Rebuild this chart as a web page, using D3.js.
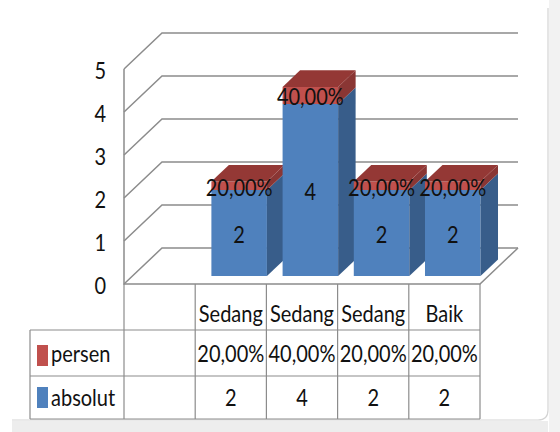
<!DOCTYPE html>
<html>
<head>
<meta charset="utf-8">
<script src="https://cdn.jsdelivr.net/npm/d3@7"></script>
<style>
body { margin: 0; background: #fff; }
svg { display: block; }
</style>
</head>
<body>
<div id="chart-area"></div>
<script>
// data (first category is empty in the source sheet)
const categories = ["", "Sedang", "Sedang", "Sedang", "Baik"];
const absolut = [null, 2, 4, 2, 2];
const persen = [null, 0.2, 0.4, 0.2, 0.2];
const yTicks = [0, 1, 2, 3, 4, 5];
const seriesNames = ["persen", "absolut"];

const canvasWidth = 560;
const canvasHeight = 432;

const depthX = 38, depthY = 36;      // oblique offset of the back wall
const barFront = 0.22, barBack = 0.68; // bar depth as fraction of floor depth
const fontFamily = "Lato, 'Open Sans', sans-serif";
const stretch = 1.14; // source font is tall and narrow

const colors = {
  absolut: { front: "#4F81BD", side: "#385D8A", top: "#3B6597" },
  persen: { front: "#C0504D", side: "#8A3634", top: "#943835" }
};

const pct = d3.formatLocale({ decimal: ",", thousands: ".", grouping: [3], currency: ["", ""] }).format(".2%");

const svg = d3.select("#chart-area").append("svg")
  .attr("width", canvasWidth).attr("height", canvasHeight);

const scaleX = d3.scaleBand().domain(d3.range(categories.length)).range([124, 480]);
const scaleY = d3.scaleLinear().domain([0, 5]).range([284, 69]);

const proj = (px, v, t) => [px + t * depthX, scaleY(v) - t * depthY];
const line = d3.line();
const at = (x, y) => `translate(${x},${y}) scale(1,${stretch})`;

// window frame bits on the right and bottom
svg.append("rect").attr("x", 549).attr("y", 0).attr("width", 11).attr("height", canvasHeight).attr("fill", "#f2f2f2");
svg.append("path").attr("d", "M548,8 L548,410 Q548,420 538,420 L12,420")
  .attr("fill", "none").attr("stroke", "#d4d4d4").attr("stroke-width", 1.2);
svg.append("rect").attr("x", 12).attr("y", 421).attr("width", 536).attr("height", 11).attr("fill", "#ededed");

// walls and floor
const grid = svg.append("g").attr("fill", "none").attr("stroke", "#8c8c8c").attr("stroke-width", 1.5);
const left = scaleX.range()[0], right = scaleX.range()[1];

yTicks.forEach(v => {
  grid.append("path").attr("d", line([proj(left, v, 0), proj(left, v, 1), proj(right, v, 1)]));
});
grid.append("path").attr("d", line([proj(left, 5, 0), proj(left, 0, 0), proj(right, 0, 0), proj(right, 0, 1)]));

// y tick labels
svg.append("g").selectAll("text").data(yTicks).join("text")
  .attr("transform", v => at(106, scaleY(v) + 10))
  .attr("text-anchor", "end")
  .attr("font-family", fontFamily).attr("font-size", 20).attr("fill", "#111")
  .text(v => v);

// stacked 3d columns
const barWidth = scaleX.bandwidth() * 0.78;
const bars = svg.append("g");
const labels = [];

categories.forEach((c, i) => {
  if (absolut[i] == null) return;
  const x0 = scaleX(i) + (scaleX.bandwidth() - barWidth) / 2;
  const x1 = x0 + barWidth;
  const segments = [
    { key: "absolut", v0: 0, v1: absolut[i], text: absolut[i] },
    { key: "persen", v0: absolut[i], v1: absolut[i] + persen[i], text: pct(persen[i]) }
  ];
  segments.forEach((s, k) => {
    const col = colors[s.key];
    bars.append("path").attr("fill", col.front)
      .attr("d", line([proj(x0, s.v0, barFront), proj(x1, s.v0, barFront), proj(x1, s.v1, barFront), proj(x0, s.v1, barFront)]) + "Z");
    bars.append("path").attr("fill", col.side)
      .attr("d", line([proj(x1, s.v0, barFront), proj(x1, s.v0, barBack), proj(x1, s.v1, barBack), proj(x1, s.v1, barFront)]) + "Z");
    if (k === segments.length - 1) {
      bars.append("path").attr("fill", col.top)
        .attr("d", line([proj(x0, s.v1, barFront), proj(x1, s.v1, barFront), proj(x1, s.v1, barBack), proj(x0, s.v1, barBack)]) + "Z");
    }
    const mid = proj((x0 + x1) / 2, (s.v0 + s.v1) / 2, barFront);
    labels.push({ x: mid[0], y: mid[1] + 10, text: s.text });
  });
});

svg.append("g").selectAll("text").data(labels).join("text")
  .attr("transform", d => at(d.x, d.y))
  .attr("text-anchor", "middle")
  .attr("font-family", fontFamily).attr("font-size", 20).attr("fill", "#111")
  .text(d => d.text);

// data table under the floor
const rowTop = scaleY(0), headerBottom = 330, rowBottoms = [376, 419];
const tableLeft = 30;
const table = svg.append("g").attr("stroke", "#8c8c8c").attr("stroke-width", 1.2).attr("fill", "none");

const edges = d3.range(categories.length + 1).map(i => i < categories.length ? scaleX(i) : right);
edges.forEach(xe => {
  table.append("line").attr("x1", xe).attr("x2", xe).attr("y1", rowTop).attr("y2", rowBottoms[1]);
});
table.append("line").attr("x1", tableLeft).attr("x2", tableLeft).attr("y1", headerBottom).attr("y2", rowBottoms[1]);
[headerBottom, ...rowBottoms].forEach(yy => {
  table.append("line").attr("x1", tableLeft).attr("x2", right).attr("y1", yy).attr("y2", yy);
});

const tableText = svg.append("g").attr("font-family", fontFamily).attr("font-size", 20).attr("fill", "#111");

categories.forEach((c, i) => {
  const cx = scaleX(i) + scaleX.bandwidth() / 2;
  tableText.append("text").attr("transform", at(cx, 322)).attr("text-anchor", "middle").text(c);
  if (absolut[i] == null) return;
  tableText.append("text").attr("transform", at(cx, 362)).attr("text-anchor", "middle").text(pct(persen[i]));
  tableText.append("text").attr("transform", at(cx, 406)).attr("text-anchor", "middle").text(absolut[i]);
});

// legend keys in the table rows
const rowLabelY = [362, 406];
const keyTop = [345, 387];
seriesNames.forEach((name, k) => {
  svg.append("rect").attr("x", 37).attr("y", keyTop[k]).attr("width", 11).attr("height", 21)
    .attr("fill", colors[name].front);
  tableText.append("text").attr("transform", at(51, rowLabelY[k])).text(name);
});
</script>
</body>
</html>
